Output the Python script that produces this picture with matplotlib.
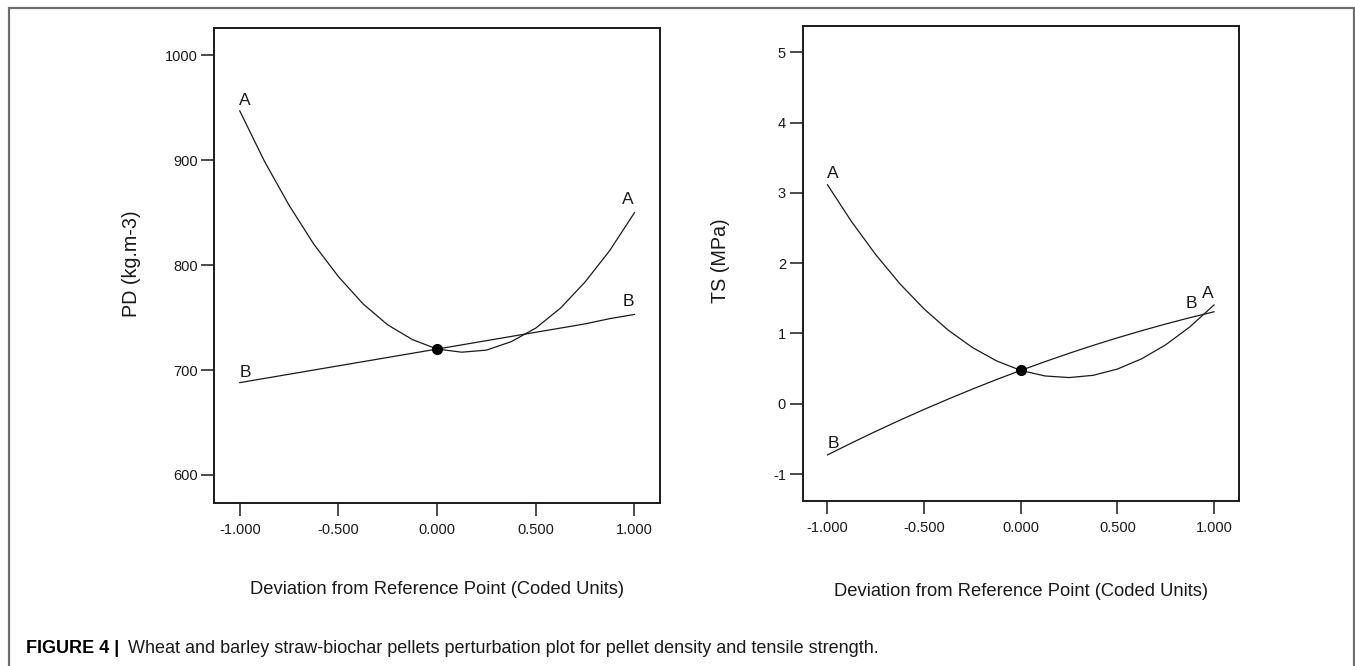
import numpy as np
import matplotlib
matplotlib.use("Agg")
import matplotlib.pyplot as plt
from matplotlib.patches import Rectangle

plt.rcParams['font.family'] = ['Liberation Sans', 'DejaVu Sans']
plt.rcParams['axes.unicode_minus'] = False

# ---------------------------------------------------------------
# data (coded units)
# ---------------------------------------------------------------
x_coded = [-1.0, -0.875, -0.75, -0.625, -0.5, -0.375, -0.25, -0.125, 0.0,
           0.125, 0.25, 0.375, 0.5, 0.625, 0.75, 0.875, 1.0]

# pellet density, kg.m-3
pd_A = [947, 899, 857, 820, 789, 763, 743, 729, 720,
        717, 719, 727, 740, 759, 784, 814, 850]
pd_B = [688, 692, 696, 700, 704, 708, 712, 716, 720,
        724, 728, 732, 736, 740, 744, 749, 753]

# tensile strength, MPa
ts_A = [3.115, 2.589, 2.120, 1.706, 1.348, 1.046, 0.800, 0.609, 0.474,
        0.395, 0.372, 0.404, 0.493, 0.638, 0.838, 1.093, 1.405]
ts_B = [-0.728, -0.558, -0.393, -0.234, -0.081, 0.066, 0.208, 0.344, 0.474,
        0.598, 0.717, 0.830, 0.937, 1.038, 1.134, 1.224, 1.308]

x_ticks = [-1.0, -0.5, 0.0, 0.5, 1.0]
x_ticklabels = ['-1.000', '-0.500', '0.000', '0.500', '1.000']
pd_ticks = [600, 700, 800, 900, 1000]
ts_ticks = [-1, 0, 1, 2, 3, 4, 5]

xlabel = 'Deviation from Reference Point (Coded Units)'
caption_bold = 'FIGURE 4 |'
caption_text = ('Wheat and barley straw-biochar pellets perturbation plot '
                'for pellet density and tensile strength.')

INK = '#1a1a1a'

fig = plt.figure(figsize=(13.55, 6.66), dpi=100)

# thin grey frame around the figure (open at the bottom)
fig.add_artist(Rectangle((8.5 / 1355, -0.1), (1353.5 - 8.5) / 1355,
                         1.1 - 8.5 / 666, transform=fig.transFigure,
                         fill=False, edgecolor='#6e6e6e', lw=1.6))


def style_axes(ax, xlab_y):
    for sp in ax.spines.values():
        sp.set_linewidth(1.4)
        sp.set_color(INK)
    ax.tick_params(direction='out', length=9.5, width=1.1, colors=INK,
                   labelsize=10.5)
    ax.tick_params(axis='y', pad=2.5)
    ax.tick_params(axis='x', pad=5)
    ax.set_xlim(-1.128, 1.128)
    ax.set_xticks(x_ticks)
    ax.set_xticklabels(x_ticklabels)
    ax.set_xlabel(xlabel, fontsize=13.2, color=INK, va='center')
    ax.xaxis.set_label_coords(0.5, xlab_y)


# ---- left panel: pellet density ----
ax1 = fig.add_axes([0.1583, 0.2443, 0.3286, 0.7137])
ax1.plot(x_coded, pd_A, color=INK, lw=0.9)
ax1.plot(x_coded, pd_B, color=INK, lw=0.9)
ax1.plot([x_coded[8]], [pd_A[8]], 'o', color='black', ms=7)
ax1.set_ylim(573, 1026)
ax1.set_yticks(pd_ticks)
style_axes(ax1, -0.1824)
ax1.set_ylabel('PD (kg.m-3)', fontsize=14.2, color=INK, va='center')
ax1.yaxis.set_label_coords(-0.186, 0.505)
ax1.text(-0.973, 957, 'A', ha='center', va='center', fontsize=12.5, color=INK)
ax1.text(0.968, 863, 'A', ha='center', va='center', fontsize=12.5, color=INK)
ax1.text(-0.973, 698, 'B', ha='center', va='center', fontsize=12.5, color=INK)
ax1.text(0.968, 765, 'B', ha='center', va='center', fontsize=12.5, color=INK)

# ---- right panel: tensile strength ----
ax2 = fig.add_axes([0.5924, 0.2474, 0.3218, 0.7143])
ax2.plot(x_coded, ts_A, color=INK, lw=0.9)
ax2.plot(x_coded, ts_B, color=INK, lw=0.9)
ax2.plot([x_coded[8]], [ts_A[8]], 'o', color='black', ms=7)
ax2.set_ylim(-1.387, 5.38)
ax2.set_yticks(ts_ticks)
style_axes(ax2, -0.190)
ax2.set_ylabel('TS (MPa)', fontsize=14.2, color=INK, va='center')
ax2.yaxis.set_label_coords(-0.188, 0.505)
ax2.text(-0.97, 3.28, 'A', ha='center', va='center', fontsize=12.5, color=INK)
ax2.text(0.97, 1.57, 'A', ha='center', va='center', fontsize=12.5, color=INK)
ax2.text(-0.97, -0.57, 'B', ha='center', va='center', fontsize=12.5, color=INK)
ax2.text(0.885, 1.42, 'B', ha='center', va='center', fontsize=12.5, color=INK)

# ---- caption ----
fig.text(26 / 1355, 1 - 648.5 / 666, caption_bold, fontsize=13,
         fontweight='bold', va='center', ha='left', color='black')
fig.text(128 / 1355, 1 - 648.5 / 666, caption_text, fontsize=13,
         va='center', ha='left', color=INK)

fig.savefig('out.png', dpi=100)
plt.close(fig)
